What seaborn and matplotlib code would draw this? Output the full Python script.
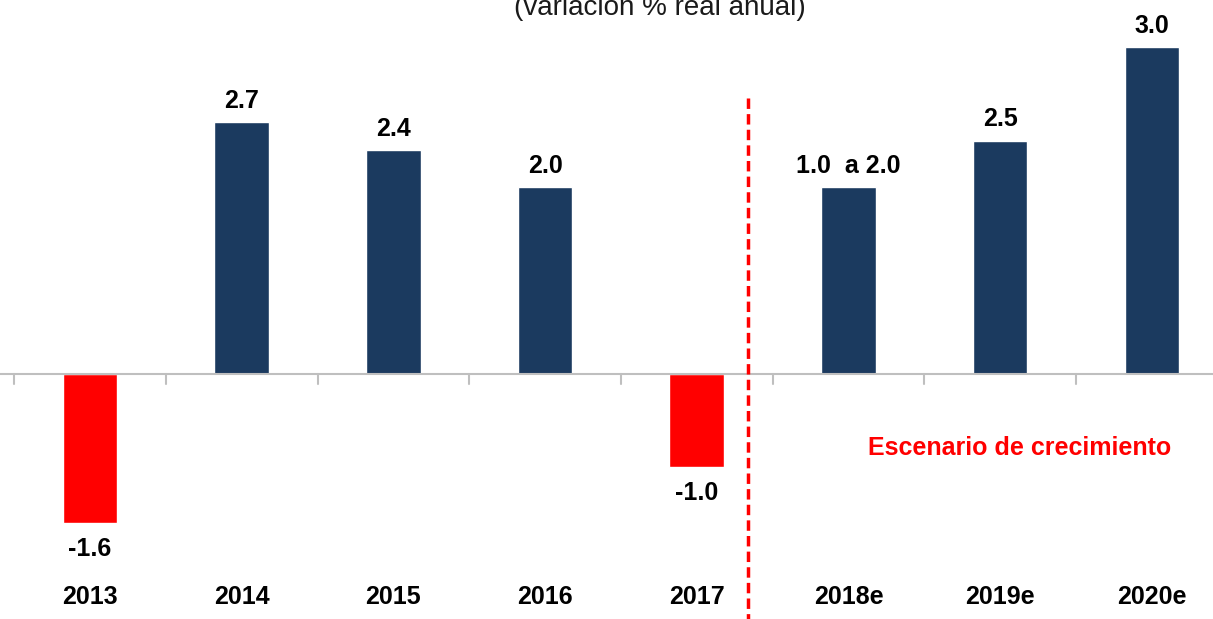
import numpy as np
import matplotlib
matplotlib.use("Agg")
import matplotlib.pyplot as plt
import seaborn as sns
import pandas as pd

# data
years = ["2013", "2014", "2015", "2016", "2017", "2018e", "2019e", "2020e"]
heights = [-1.6, 2.7, 2.4, 2.0, -1.0, 2.0, 2.5, 3.5]
value_labels = ["-1.6", "2.7", "2.4", "2.0", "-1.0", "1.0  a 2.0", "2.5", "3.0"]
title = "(variación % real anual)"
note = "Escenario de crecimiento"

sns.set_style("white")
plt.rcParams["font.family"] = ["Liberation Sans", "DejaVu Sans"]
plt.rcParams["text.color"] = "black"

navy = "#1b3a5f"
red = "#ff0000"

df = pd.DataFrame({"year": years, "value": heights})
df["sign"] = np.where(df["value"] < 0, "neg", "pos")

fig = plt.figure(figsize=(12.13, 6.19), dpi=100)
ax = fig.add_axes([0, 0, 1, 1])
sns.barplot(data=df, x="year", y="value", hue="sign", palette={"neg": red, "pos": navy},
            dodge=False, width=0.36, legend=False, ax=ax, saturation=1)

for s in ax.spines.values():
    s.set_visible(False)
ax.set_yticks([])
ax.set_xticks([])
ax.set_xlabel("")
ax.set_ylabel("")
ax.axhline(0, color="#bfbfbf", lw=1.5, zorder=1)
# boundary ticks between categories
for b in np.arange(-0.5, len(years), 1.0):
    ax.plot([b, b], [0, -0.11], color="#bfbfbf", lw=1.5, zorder=1)

for i, (h, lab) in enumerate(zip(heights, value_labels)):
    if h >= 0:
        ax.text(i, h + 0.1, lab, ha="center", va="bottom", fontsize=18, fontweight="bold")
    else:
        ax.text(i, h - 0.15, lab, ha="center", va="top", fontsize=18, fontweight="bold")
    ax.text(i, -2.39, years[i], ha="center", va="center", fontsize=18, fontweight="bold")

ax.plot([4.34, 4.34], [2.96, -2.7], color=red, lw=2.5, ls=(0, (3, 1.5)), zorder=3)
ax.text(6.13, -0.79, note, color=red, ha="center", va="center", fontsize=18, fontweight="bold")
ax.text(3.76, 3.85, title, ha="center", va="baseline", fontsize=20, color="#1a1a1a")

ax.set_xlim(-0.593, 7.403)
ax.set_ylim(-2.626, 4.008)

fig.savefig("out.png", dpi=100)
